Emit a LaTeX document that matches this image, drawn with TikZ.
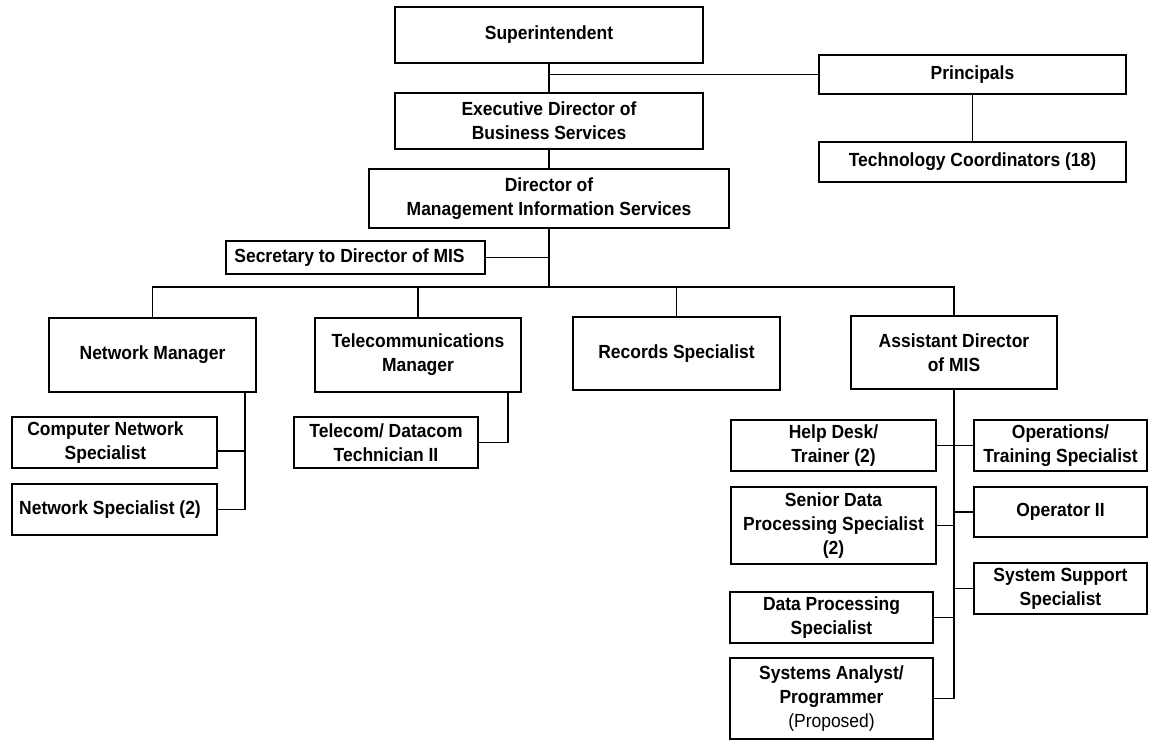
\documentclass[tikz,border=0pt]{standalone}
\usepackage{fontspec}
\setmainfont{Liberation Sans}[FakeStretch=0.92]
\begin{document}
\begin{tikzpicture}[x=1pt,y=-1pt,
  box/.style={draw=black, line width=1.9pt, fill=white, inner sep=0pt, align=center,
    font=\fontsize{19}{24}\selectfont\bfseries},
  link/.style={draw=black, line width=1.7pt}]
\useasboundingbox (0,0) rectangle (1149,740);
% box from its corners: name, x1, y1, x2, y2, text
\newcommand\orgbox[6]{%
  \node[box, minimum width={(#4-#2)*1pt}, minimum height={(#5-#3)*1pt}]
    (#1) at ({(#2+#4)/2},{(#3+#5)/2}) {#6};}
% top of the district
\orgbox{sup}{395}{7}{703}{63}{Superintendent}
\orgbox{prin}{819}{55}{1126}{94}{Principals}
\orgbox{exec}{395}{93}{703}{149}{Executive Director of\\Business Services}
\orgbox{tech}{819}{142}{1126}{182}{Technology Coordinators (18)}
\orgbox{dir}{369}{169}{729}{228}{Director of\\Management Information Services}
\orgbox{sec}{226}{241}{485}{274}{\hspace*{-12pt}Secretary to Director of MIS}
% managers
\orgbox{nm}{49}{318}{256}{392}{Network Manager}
\orgbox{tm}{315}{318}{521}{392}{Telecommunications\\Manager}
\orgbox{rs}{573}{317}{780}{390}{Records Specialist}
\orgbox{ad}{851}{316}{1057}{389}{Assistant Director\\of MIS}
% network and telecom staff
\orgbox{cns}{12}{417}{217}{468}{\hspace*{-18pt}Computer Network\\\hspace*{-18pt}Specialist}
\orgbox{ns}{12}{484}{217}{535}{\hspace*{-9pt}Network Specialist (2)}
\orgbox{tt}{294}{417}{478}{468}{Telecom/ Datacom\\Technician II}
% staff under the assistant director
\orgbox{hd}{731}{420}{936}{471}{Help Desk/\\Trainer (2)}
\orgbox{ops}{974}{420}{1147}{471}{Operations/\\Training Specialist}
\orgbox{sd}{731}{487}{936}{564}{Senior Data\\Processing Specialist\\(2)}
\orgbox{op}{974}{487}{1147}{537}{Operator II}
\orgbox{ss}{974}{563}{1147}{614}{System Support\\Specialist}
\orgbox{dp}{730}{592}{933}{643}{Data Processing\\Specialist}
\orgbox{sa}{730}{658}{933}{739}{Systems Analyst/\\Programmer\\{\mdseries(Proposed)}}
% junction points
\coordinate (bus) at (549,287);
\coordinate (nmtap) at (245,392);
\coordinate (tmtap) at (508,392);
\coordinate (cnsin) at ([yshift=-8.5pt]cns.east);
\coordinate (adend) at (954,699);
% connectors
\draw[link] (sup.south) -- (exec.north);
\draw[link] (sup.south |- prin.west) -- (prin.west);
\draw[link] (prin.south) -- (tech.north);
\draw[link] (exec.south) -- (dir.north);
\draw[link] (dir.south) -- (bus);
\draw[link] (sec.east) -- (sec.east -| bus);
\draw[link] (nm.north) |- (bus) -| (ad.north);
\draw[link] (tm.north) -- (tm.north |- bus);
\draw[link] (rs.north) -- (rs.north |- bus);
\draw[link] (nmtap) |- (ns.east);
\draw[link] (cnsin) -- (cnsin -| nmtap);
\draw[link, line width=1.3pt] (tmtap) |- (tt.east);
\draw[link] (ad.south) -- (adend);
\draw[link] (hd.east) -- (hd.east -| adend);
\draw[link] (ops.west) -- (ops.west -| adend);
\draw[link] (sd.east) -- (sd.east -| adend);
\draw[link] (op.west) -- (op.west -| adend);
\draw[link] (ss.west) -- (ss.west -| adend);
\draw[link] (dp.east) -- (dp.east -| adend);
\draw[link] (sa.east) -- (sa.east -| adend);
\end{tikzpicture}
\end{document}
